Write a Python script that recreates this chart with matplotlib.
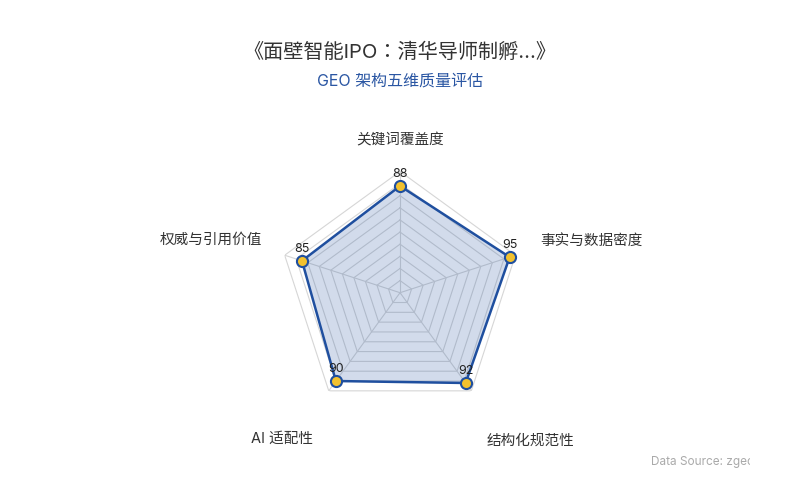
import numpy as np
import matplotlib
matplotlib.use('Agg')
import matplotlib.pyplot as plt
from matplotlib.transforms import Bbox, TransformedBbox

plt.rcParams['font.family'] = ['Inter', 'Noto Sans CJK SC', 'DejaVu Sans']

title = '《面壁智能IPO：清华导师制孵...》'
subtitle = 'GEO 架构五维质量评估'
dims = ['关键词覆盖度', '事实与数据密度', '结构化规范性', 'AI 适配性', '权威与引用价值']
scores = [88, 95, 92, 90, 85]
max_score = 100
levels = [10, 20, 30, 40, 50, 60, 70, 80, 90, 100]

line_c = '#1f4f9f'
dot_c = '#f2c12e'
grid_c = '#d6d6d6'
text_c = '#333333'

fig = plt.figure(figsize=(8, 5), dpi=100)
fig.patch.set_facecolor('white')

ax = fig.add_axes([0.3484, 0.172, 0.3033, 0.4852], projection='polar')
ax.set_theta_offset(np.pi / 2)
ax.set_theta_direction(-1)
ax.set_ylim(0, max_score)
ax.set_xticks([])
ax.set_yticks([])
ax.grid(False)
ax.spines['polar'].set_visible(False)
ax.patch.set_alpha(0)

n = len(dims)
angles = np.linspace(0, 2 * np.pi, n, endpoint=False)
ring = np.append(angles, angles[0])

# pentagon grid
for lv in levels:
    ax.plot(ring, [lv] * (n + 1), color=grid_c, lw=0.8, zorder=1)
for a in angles:
    ax.plot([a, a], [0, max_score], color=grid_c, lw=0.8, zorder=1)

vals = scores + scores[:1]
ax.fill(ring, vals, color=line_c, alpha=0.2, lw=0, zorder=2)
ax.plot(ring, vals, color=line_c, lw=1.8, zorder=3)
ax.plot(angles, scores, 'o', ms=8, mfc=dot_c, mec=line_c, mew=1.5, zorder=4,
        clip_on=False)

for a, v in zip(angles, scores):
    ax.annotate(str(v), (a, v), xytext=(0, 6), textcoords='offset pixels',
                ha='center', va='bottom', fontsize=9, color='#222222',
                zorder=5, annotation_clip=False)

# axis names, offset from the outer vertex
name_off = [((0, 31), 'center'), ((25, 14), 'left'), ((15, -50), 'left'),
            ((-16, -48), 'right'), ((-23, 15), 'right')]
for a, name, (off, ha) in zip(angles, dims, name_off):
    ax.annotate(name, (a, max_score), xytext=off, textcoords='offset pixels',
                ha=ha, va='center', fontsize=10.5, color=text_c,
                annotation_clip=False)

fig.text(0.5, 1 - 52 / 500, title, ha='center', va='center',
         fontsize=14.5, color=text_c,
         family=['Inter', 'Noto Sans CJK JP', 'DejaVu Sans'])
fig.text(0.5, 1 - 81 / 500, subtitle, ha='center', va='center',
         fontsize=11.5, color='#2a56a3')

src = fig.text(651 / 800, 1 - 462 / 500, 'Data Source: zgeo', ha='left',
               va='center', fontsize=8.5, color='#aaaaaa')
src.set_clip_box(TransformedBbox(Bbox([[0, 0], [750 / 800, 1]]), fig.transFigure))
src.set_clip_on(True)

plt.savefig('out.png', dpi=100, facecolor='white')
